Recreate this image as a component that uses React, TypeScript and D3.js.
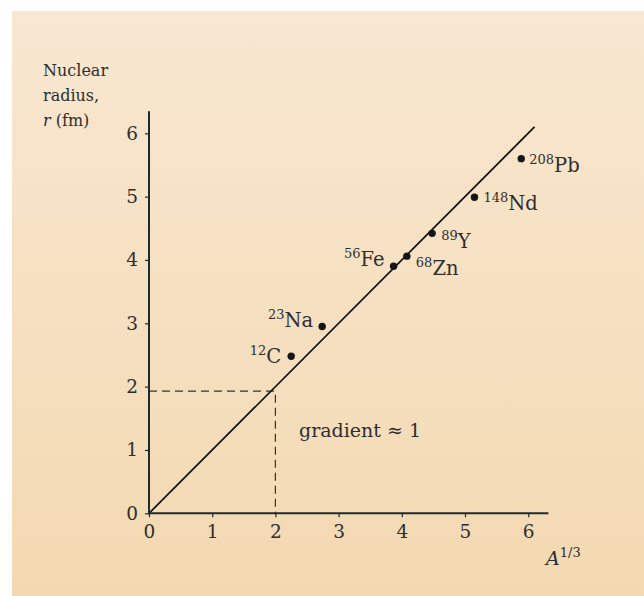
import React, { useEffect, useRef } from 'react';
import * as d3 from 'd3';

// nuclides measured, A^(1/3) against radius in fm
const nuclides = ['C', 'Na', 'Fe', 'Zn', 'Y', 'Nd', 'Pb'];
const massNumbers = [12, 23, 56, 68, 89, 148, 208];
const cubeRootA = [2.25, 2.74, 3.87, 4.08, 4.48, 5.15, 5.89];
const radiusFm = [2.48, 2.95, 3.9, 4.06, 4.42, 4.99, 5.6];

const xTicks = [0, 1, 2, 3, 4, 5, 6];
const yTicks = [0, 1, 2, 3, 4, 5, 6];

// fit line r = A^(1/3), and the dashed read-off at A^(1/3) = 2
const fitEnd = 6.1;
const readX = 2;
const readY = 1.93;

// label offsets in px: [dx, dy, anchor]
const labelPlace: Record<string, [number, number, string]> = {
  C: [-10, 7, 'end'],
  Na: [-9, 1, 'end'],
  Fe: [-9, 0, 'end'],
  Zn: [9, 19, 'start'],
  Y: [9, 15, 'start'],
  Nd: [9, 13, 'start'],
  Pb: [8, 13, 'start'],
};

const FONT = '"DejaVu Serif", serif';
const INK = '#2e2e2e';
const AXIS = '#1f2a2e';

export default function App() {
  const ref = useRef<SVGSVGElement>(null);
  const width = 644;
  const height = 596;

  useEffect(() => {
    const svg = d3.select(ref.current);
    svg.selectAll('*').remove();

    const x = d3.scaleLinear().domain([0, 6]).range([149, 528.2]);
    const y = d3.scaleLinear().domain([0, 6]).range([513.3, 133.3]);

    const defs = svg.append('defs');
    const grad = defs.append('linearGradient')
      .attr('id', 'bg')
      .attr('x1', 0).attr('y1', 0).attr('x2', 0).attr('y2', 1);
    grad.append('stop').attr('offset', '0%').attr('stop-color', '#f8e7d1');
    grad.append('stop').attr('offset', '100%').attr('stop-color', '#f3d9b1');

    svg.append('rect')
      .attr('x', 12).attr('y', 11)
      .attr('width', width - 12).attr('height', height - 11)
      .attr('fill', 'url(#bg)');

    // dashed read-off lines
    svg.append('path')
      .attr('d', `M${x(0)},${y(readY)}H${x(readX)}V${y(0)}`)
      .attr('fill', 'none')
      .attr('stroke', '#333')
      .attr('stroke-width', 1.2)
      .attr('stroke-dasharray', '8,5');

    // fit line
    svg.append('line')
      .attr('x1', x(0)).attr('y1', y(0))
      .attr('x2', x(fitEnd)).attr('y2', y(fitEnd))
      .attr('stroke', '#111')
      .attr('stroke-width', 1.7);

    // axes
    const yAxis = svg.append('g')
      .attr('transform', `translate(${x(0)},0)`)
      .call(d3.axisLeft(y).tickValues(yTicks).tickSize(4).tickPadding(7).tickFormat(d3.format('d')));
    const xAxis = svg.append('g')
      .attr('transform', `translate(0,${y(0)})`)
      .call(d3.axisBottom(x).tickValues(xTicks).tickSize(4).tickPadding(8).tickFormat(d3.format('d')));
    [xAxis, yAxis].forEach(g => {
      g.select('.domain').remove();
      g.selectAll('line').attr('stroke', AXIS).attr('stroke-width', 1.2);
      g.selectAll('text')
        .attr('fill', INK)
        .style('font-family', FONT)
        .style('font-size', '18.5px');
    });

    svg.append('line')
      .attr('x1', x(0)).attr('y1', y(0))
      .attr('x2', x(0)).attr('y2', y(6.35))
      .attr('stroke', AXIS).attr('stroke-width', 2);
    svg.append('line')
      .attr('x1', x(0) - 1).attr('y1', y(0))
      .attr('x2', x(6.32)).attr('y2', y(0))
      .attr('stroke', AXIS).attr('stroke-width', 2);

    // points
    const pts = nuclides.map((n, i) => ({ n, a: massNumbers[i], xv: cubeRootA[i], yv: radiusFm[i] }));
    svg.selectAll('circle.pt')
      .data(pts).enter()
      .append('circle')
      .attr('class', 'pt')
      .attr('cx', d => x(d.xv))
      .attr('cy', d => y(d.yv))
      .attr('r', 3.7)
      .attr('fill', '#151515');

    const labels = svg.selectAll('text.lab')
      .data(pts).enter()
      .append('text')
      .attr('class', 'lab')
      .attr('x', d => x(d.xv) + labelPlace[d.n][0])
      .attr('y', d => y(d.yv) + labelPlace[d.n][1])
      .attr('text-anchor', d => labelPlace[d.n][2])
      .attr('fill', INK)
      .style('font-family', FONT);
    labels.append('tspan')
      .attr('font-size', 13)
      .attr('dy', -8)
      .text(d => String(d.a));
    labels.append('tspan')
      .attr('font-size', 19.5)
      .attr('dy', 8)
      .text(d => d.n);

    // annotation
    svg.append('text')
      .attr('x', 299).attr('y', 437)
      .attr('fill', INK)
      .style('font-family', FONT)
      .style('font-size', '19px')
      .text('gradient \u2248 1');

    // y label
    const yl = svg.append('text')
      .attr('fill', INK)
      .style('font-family', FONT)
      .style('font-size', '16px');
    yl.append('tspan').attr('x', 43).attr('y', 76).text('Nuclear');
    yl.append('tspan').attr('x', 43).attr('y', 101).text('radius,');
    const r3 = yl.append('tspan').attr('x', 43).attr('y', 126);
    r3.append('tspan').attr('font-style', 'italic').text('r');
    r3.append('tspan').text(' (fm)');

    // x label
    const xl = svg.append('text')
      .attr('x', 546).attr('y', 565)
      .attr('fill', INK)
      .style('font-family', FONT);
    xl.append('tspan').attr('font-size', 19).attr('font-style', 'italic').text('A');
    xl.append('tspan').attr('font-size', 13).attr('dy', -8).text('1/3');
  }, []);

  return (
    <svg
      ref={ref}
      width={width}
      height={height}
      style={{ position: 'absolute', left: 0, top: 0, background: '#fff' }}
    />
  );
}
